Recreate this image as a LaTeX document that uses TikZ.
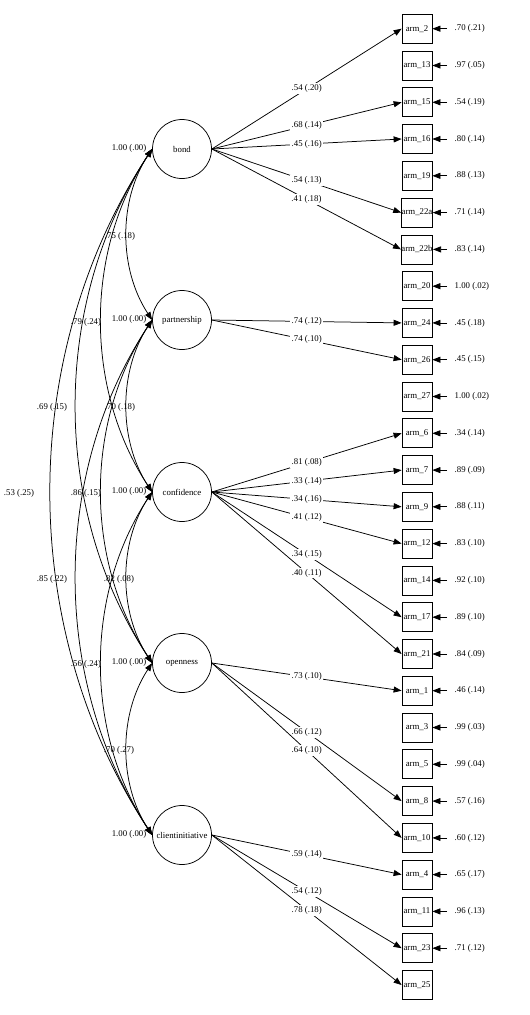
\documentclass[tikz,border=0pt]{standalone}
\usepackage{fontspec}
\setmainfont{Liberation Serif}
\usetikzlibrary{arrows.meta}
\begin{document}
\begin{tikzpicture}[x=1pt,y=-1pt,
  line width=0.75pt,
  every node/.style={font=\fontsize{8.8}{10}\selectfont},
  latent/.style={circle, draw, minimum size=59pt, inner sep=0pt},
  manifest/.style={rectangle, draw, minimum width=30pt, minimum height=29pt, inner sep=0pt},
  load/.style={-{Triangle[length=8pt,width=6pt]}},
  cov/.style={{Triangle[length=8pt,width=6pt]}-{Triangle[length=8pt,width=6pt]}},
  lbl/.style={fill=white, inner sep=1.5pt}]
\useasboundingbox (0,0) rectangle (530,1015);

% latent variables
\node[latent] (bond) at (182,149) {bond};
\node[latent] (partnership) at (182,320) {partnership};
\node[latent] (confidence) at (182,492) {confidence};
\node[latent] (openness) at (182,663) {openness};
\node[latent] (client) at (182,835) {clientinitiative};

% variance labels
\node (vbond) at (129,148) {1.00 (.00)};
\node (vpart) at (129,319) {1.00 (.00)};
\node (vconf) at (129,491) {1.00 (.00)};
\node (vopen) at (129,662) {1.00 (.00)};
\node (vclient) at (129,834) {1.00 (.00)};

% manifest variables with error variances
\foreach \n/\y/\e in {2/28.7/{.70 (.21)}, 13/65.5/{.97 (.05)}, 15/102.3/{.54 (.19)},
  16/139.0/{.80 (.14)}, 19/175.8/{.88 (.13)}, 22a/212.6/{.71 (.14)}, 22b/249.4/{.83 (.14)},
  20/286.2/{1.00 (.02)}, 24/322.9/{.45 (.18)}, 26/359.7/{.45 (.15)}, 27/396.5/{1.00 (.02)},
  6/433.3/{.34 (.14)}, 7/470.1/{.89 (.09)}, 9/506.8/{.88 (.11)}, 12/543.6/{.83 (.10)},
  14/580.4/{.92 (.10)}, 17/617.2/{.89 (.10)}, 21/654.0/{.84 (.09)}, 1/690.7/{.46 (.14)},
  3/727.5/{.99 (.03)}, 5/764.3/{.99 (.04)}, 8/801.1/{.57 (.16)}, 10/837.9/{.60 (.12)},
  4/874.6/{.65 (.17)}, 11/911.4/{.96 (.13)}, 23/948.2/{.71 (.12)}} {
  \node[manifest] (arm\n) at (417,\y) {arm\_\n};
  \coordinate (e\n) at (447,\y);
  \draw[load] (e\n) -- (arm\n.east);
  \node[anchor=west] (v\n) at (451,\y) {\e};
}
\node[manifest] (arm25) at (417,985.0) {arm\_25};

% loadings
\draw[load] (bond.east) -- node[lbl] (l2) {.54 (.20)} (arm2.west);
\draw[load] (bond.east) -- node[lbl] (l15) {.68 (.14)} (arm15.west);
\draw[load] (bond.east) -- node[lbl] (l16) {.45 (.16)} (arm16.west);
\draw[load] (bond.east) -- node[lbl] (l22a) {.54 (.13)} (arm22a.west);
\draw[load] (bond.east) -- node[lbl] (l22b) {.41 (.18)} (arm22b.west);

\draw[load] (partnership.east) -- node[lbl] (l24) {.74 (.12)} (arm24.west);
\draw[load] (partnership.east) -- node[lbl] (l26) {.74 (.10)} (arm26.west);

\draw[load] (confidence.east) -- node[lbl] (l6) {.81 (.08)} (arm6.west);
\draw[load] (confidence.east) -- node[lbl] (l7) {.33 (.14)} (arm7.west);
\draw[load] (confidence.east) -- node[lbl] (l9) {.34 (.16)} (arm9.west);
\draw[load] (confidence.east) -- node[lbl] (l12) {.41 (.12)} (arm12.west);
\draw[load] (confidence.east) -- node[lbl] (l17) {.34 (.15)} (arm17.west);
\draw[load] (confidence.east) -- node[lbl] (l21) {.40 (.11)} (arm21.west);

\draw[load] (openness.east) -- node[lbl] (l1) {.73 (.10)} (arm1.west);
\draw[load] (openness.east) -- node[lbl] (l8) {.66 (.12)} (arm8.west);
\draw[load] (openness.east) -- node[lbl] (l10) {.64 (.10)} (arm10.west);

\draw[load] (client.east) -- node[lbl] (l4) {.59 (.14)} (arm4.west);
\draw[load] (client.east) -- node[lbl] (l23) {.54 (.12)} (arm23.west);
\draw[load] (client.east) -- node[lbl] (l25) {.78 (.18)} (arm25.west);

% covariances
\draw[cov] (bond.west) .. controls +(-33.7,51.3) and +(-33.7,-51.3) .. (partnership.west);
\draw[cov] (bond.west) .. controls +(-67.6,103) and +(-67.6,-103) .. (confidence.west);
\draw[cov] (bond.west) .. controls +(-101.3,154) and +(-101.3,-154) .. (openness.west);
\draw[cov] (bond.west) .. controls +(-135,206) and +(-135,-206) .. (client.west);
\draw[cov] (partnership.west) .. controls +(-33.7,51.3) and +(-33.7,-51.3) .. (confidence.west);
\draw[cov] (partnership.west) .. controls +(-67.6,103) and +(-67.6,-103) .. (openness.west);
\draw[cov] (partnership.west) .. controls +(-101.3,154) and +(-101.3,-154) .. (client.west);
\draw[cov] (confidence.west) .. controls +(-33.7,51.3) and +(-33.7,-51.3) .. (openness.west);
\draw[cov] (confidence.west) .. controls +(-67.6,103) and +(-67.6,-103) .. (client.west);
\draw[cov] (openness.west) .. controls +(-33.7,51.3) and +(-33.7,-51.3) .. (client.west);

% covariance labels
\node (c1) at (120,236) {.75 (.18)};
\node (c2) at (86,322) {.79 (.24)};
\node (c3) at (52,407) {.69 (.15)};
\node (c4) at (19,493) {.53 (.25)};
\node (c5) at (120,407) {.70 (.18)};
\node (c6) at (86,493) {.86 (.15)};
\node (c7) at (52,579) {.85 (.22)};
\node (c8) at (119,579) {.82 (.08)};
\node (c9) at (86,664) {.56 (.24)};
\node (c10) at (119,750) {.70 (.27)};
\end{tikzpicture}
\end{document}
